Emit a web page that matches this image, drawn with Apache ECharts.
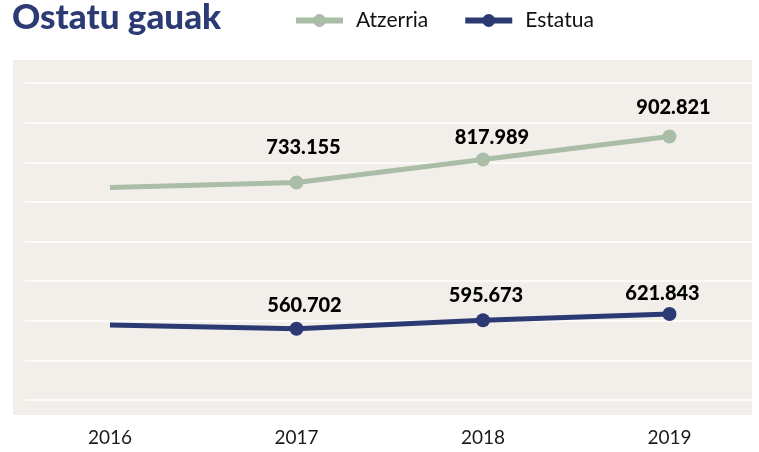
<!DOCTYPE html>
<html>
<head>
<meta charset="utf-8">
<script src="https://cdn.jsdelivr.net/npm/echarts@6/dist/echarts.min.js"></script>
<style>
  html, body { margin: 0; padding: 0; background: #ffffff; }
  #chart { width: 759px; height: 452px; }
</style>
</head>
<body>
<div id="chart"></div>
<script>
// datuak
const years = ['2016', '2017', '2018', '2019'];
const atzerria = [715000, 733155, 817989, 902821];
const estatua = [576000, 560702, 595673, 621843];

// label nudges (px) per point, 2016 has no label
const atzLabelShift = [null, [7, -13], [9, 0], [4, -7]];
const estLabelShift = [null, [8, -1], [3, -2.5], [-7, 1.5]];

const green = '#a9bda7';
const navy = '#2c3a74';

function fmt(v) {
    return String(v).replace(/\B(?=(\d{3})+(?!\d))/g, '.');
}

function buildData(values, shifts) {
    return values.map(function (v, i) {
        if (i === 0) return { value: v, symbol: 'none', label: { show: false } };
        return { value: v, label: { offset: shifts[i] } };
    });
}

const chart = echarts.init(document.getElementById('chart'));

var labelStyle = {
    show: true, position: 'top', distance: 5,
    formatter: function (p) { return fmt(p.value); },
    fontFamily: 'Lato', fontWeight: 900, fontSize: 20, color: '#000'
};

var option = {
    animation: false,
    title: {
        text: 'Ostatu gauak',
        left: 12,
        top: 0,
        padding: 0,
        textStyle: { fontFamily: 'Lato', fontWeight: 900, fontSize: 35, color: '#2d3b75' }
    },
    legend: {
        left: 288,
        top: 5,
        itemWidth: 47,
        itemHeight: 16,
        itemGap: 34,
        lineStyle: { width: 6 },
        textStyle: { fontFamily: 'Lato', fontSize: 21, color: '#111', padding: [0, 0, 0, 8] },
        data: ['Atzerria', 'Estatua']
    },
    graphic: [{
        type: 'rect',
        z: -10,
        shape: { x: 13, y: 60, width: 739, height: 355 },
        style: { fill: '#f2efea' }
    }],
    grid: [
        { left: 110, right: 89.5, top: 83, bottom: 52 },
        { left: 25, right: 7, top: 83, bottom: 52 }
    ],
    xAxis: [
        {
            gridIndex: 0,
            type: 'category',
            boundaryGap: false,
            data: years,
            axisLine: { show: false },
            axisTick: { show: false },
            axisLabel: { margin: 28, fontFamily: 'Lato', fontSize: 19, color: '#1a1a1a' }
        },
        { gridIndex: 1, type: 'value', show: false }
    ],
    yAxis: [
        { gridIndex: 0, type: 'value', min: -69000, max: 1100000, show: false },
        { gridIndex: 0, type: 'value', min: 266000, max: 1577000, show: false },
        {
            gridIndex: 1, type: 'value', min: 0, max: 8, interval: 1,
            axisLine: { show: false }, axisTick: { show: false }, axisLabel: { show: false },
            splitLine: { show: true, lineStyle: { color: '#ffffff', width: 1.5 } }
        }
    ],
    series: [
        {
            name: 'Atzerria',
            type: 'line',
            xAxisIndex: 0,
            yAxisIndex: 0,
            data: buildData(atzerria, atzLabelShift),
            color: green,
            symbol: 'circle',
            symbolSize: 14,
            lineStyle: { width: 5 },
            label: labelStyle
        },
        {
            name: 'Estatua',
            type: 'line',
            xAxisIndex: 0,
            yAxisIndex: 1,
            data: buildData(estatua, estLabelShift),
            color: navy,
            symbol: 'circle',
            symbolSize: 14,
            lineStyle: { width: 5 },
            label: labelStyle
        }
    ]
};

chart.setOption(option);
</script>
</body>
</html>
